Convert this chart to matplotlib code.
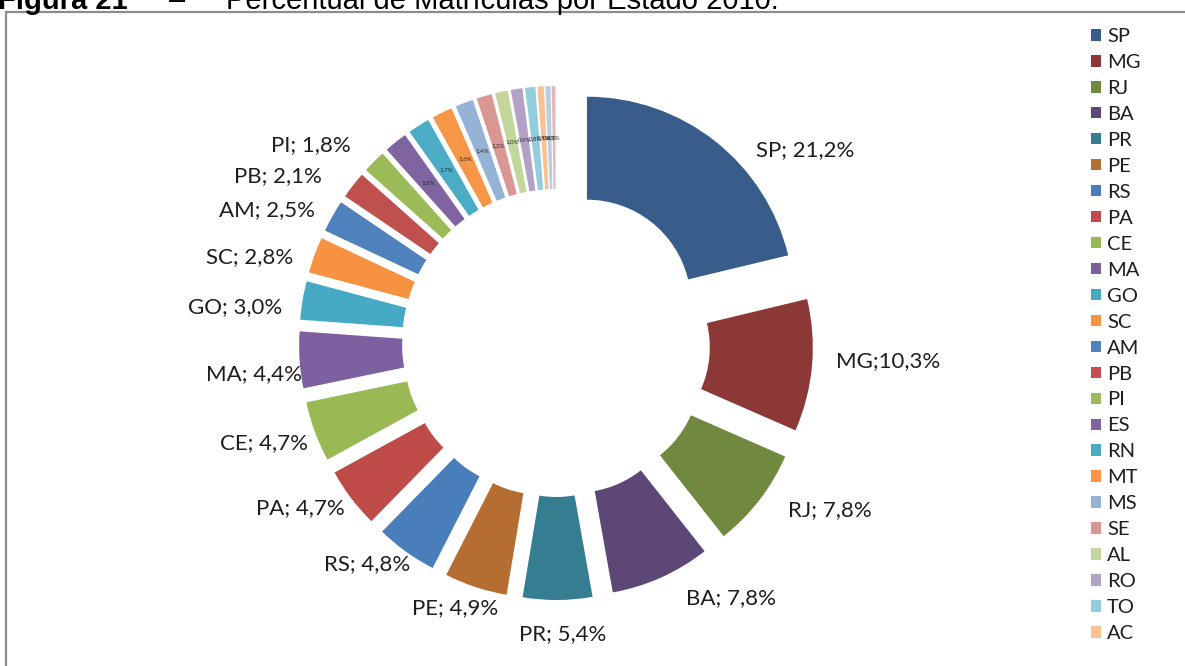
import numpy as np
import matplotlib
matplotlib.use("Agg")
import matplotlib.pyplot as plt
from matplotlib.patches import Patch, Rectangle

states = ["SP", "MG", "RJ", "BA", "PR", "PE", "RS", "PA", "CE", "MA", "GO", "SC",
          "AM", "PB", "PI", "ES", "RN", "MT", "MS", "SE", "AL", "RO", "TO", "AC",
          "AP", "RR"]
values = [21.2, 10.3, 7.8, 7.8, 5.4, 4.9, 4.8, 4.7, 4.7, 4.4, 3.0, 2.8,
          2.5, 2.1, 1.8, 1.8, 1.7, 1.6, 1.4, 1.2, 1.0, 0.9, 0.8, 0.5,
          0.4, 0.3]
legend_states = states[:24]
colors = ["#385D8A", "#8C3836", "#71893F", "#5C4776", "#357D91", "#B66D31",
          "#4A7EBB", "#BE4B48", "#98B954", "#7D60A0", "#46AAC5", "#F69240",
          "#4F81BD", "#C0504D", "#9BBB59", "#8064A2", "#4BACC6", "#F79646",
          "#95B3D7", "#D99694", "#C3D69B", "#B3A2C7", "#93CDDD", "#FAC090",
          "#B9CDE5", "#E6B9B8"]
title_bold = "Figura 21"
title_dash = "\u2013"
title_rest = "Percentual de Matr\u00edculas por Estado 2010."

W, H = 1185, 666
fig = plt.figure(figsize=(W / 100, H / 100), dpi=100)
ax = fig.add_axes([0, 0, 1, 1])

R = 207
hole = 103
expl = 50
cx, cy = 556, H - 343

wedges, _ = ax.pie(values, colors=colors, startangle=90, counterclock=False,
                   radius=R, center=(cx, cy), explode=[expl] * len(values),
                   wedgeprops=dict(width=hole, edgecolor="none"))

def fmt(v):
    return f"{v:.1f}%".replace(".", ",")

# manual label nudges (pixels: right, down), as dragged in the original
nudge = {"SP": (26, 28), "MG": (0, -7), "RJ": (10, -5), "BA": (15, -1),
         "PR": (5, 0), "PE": (30, -2), "RS": (18, -7), "PA": (13, -5),
         "CE": (16, 3), "MA": (26, 13), "GO": (3, 11), "SC": (1, 10),
         "AM": (3, 6), "PB": (-12, 6), "PI": (-6, 0)}

for i, w in enumerate(wedges):
    th = np.deg2rad((w.theta1 + w.theta2) / 2)
    dx, dy = np.cos(th), np.sin(th)
    wx, wy = w.center
    if i < 15:
        rr = R + 24
        x, y = wx + rr * dx, wy + rr * dy
        nx, ny = nudge.get(states[i], (0, 0))
        x, y = x + nx, y - ny
        if dx > 0.25:
            ha, va = "left", "center"
        elif dx < -0.25:
            ha, va = "right", "center"
        else:
            ha, va = "center", ("top" if dy < 0 else "bottom")
        sep = ";" if states[i] == "MG" else "; "
        ax.text(x, y, f"{states[i]}{sep}{fmt(values[i])}", ha=ha, va=va,
                fontsize=16, family="Lato", color="#1e1e1e")
    else:
        rr = R - hole / 2
        x, y = wx + rr * dx, wy + rr * dy
        ax.text(x, y, fmt(values[i]), ha="center", va="center",
                fontsize=4.5, family="Lato", color="#262626")

ax.set_aspect("auto")
ax.set_xlim(0, W)
ax.set_ylim(0, H)
ax.axis("off")

# frame
ax.add_patch(Rectangle((6, -20), 1400, H - 12 + 20, fill=False,
                       edgecolor="#8c8c8c", linewidth=1.6, clip_on=False))

# legend
handles = [Patch(facecolor=colors[i], edgecolor="none", label=s)
           for i, s in enumerate(legend_states)]
leg = fig.legend(handles=handles, loc="upper left",
                 bbox_to_anchor=(1091 / W, 1 - 28 / H), frameon=False,
                 prop={"family": "Lato", "size": 14.5}, handlelength=0.5,
                 handleheight=0.5, handletextpad=0.3, labelspacing=0.445,
                 borderaxespad=0, borderpad=0)
for t in leg.get_texts():
    t.set_color("#1e1e1e")

# title (cut at the top edge)
base = 1 - 9 / H
t1 = fig.text(-2 / W, base, title_bold, fontsize=21, fontweight="bold",
              family="Liberation Sans", va="baseline", ha="left")
fig.canvas.draw()
bb = t1.get_window_extent()
start_rest = 226
fig.text((bb.x1 + start_rest) / 2 / W, base, title_dash, fontsize=21,
         family="Liberation Sans", va="baseline", ha="center")
fig.text(start_rest / W, base, title_rest, fontsize=21,
         family="Liberation Sans", va="baseline", ha="left")

fig.savefig("out.png", dpi=100)
